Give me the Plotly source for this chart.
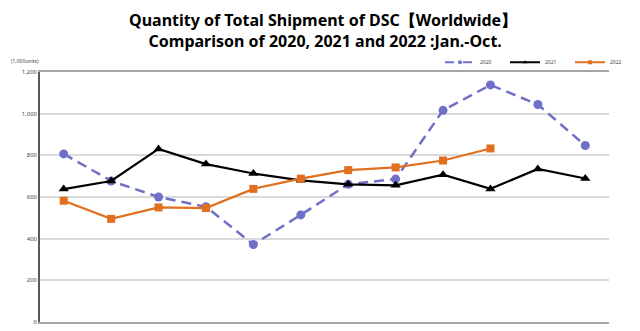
import plotly.graph_objects as go

months = ["Jan", "Feb", "Mar", "Apr", "May", "Jun", "Jul", "Aug", "Sep", "Oct", "Nov", "Dec"]
s2020 = [807, 677, 600, 553, 372, 514, 661, 686, 1016, 1138, 1044, 847]
s2021 = [638, 677, 831, 758, 713, 680, 661, 656, 707, 639, 735, 689]
s2022 = [582, 495, 550, 547, 639, 688, 729, 742, 775, 833]
ytickvals = [0, 200, 400, 600, 800, 1000, 1200]
yticktext = ["0", "200", "400", "600", "800", "1,000", "1,200"]

series = [
    ("2020", s2020, "#7070c8", "10px,6px", "circle", 9, 2.5),
    ("2021", s2021, "#000000", "solid", "triangle-up", 9, 2.2),
    ("2022", s2022, "#e0701f", "solid", "square", 8, 2.2),
]

fig = go.Figure()
for name, vals, color, dash, symbol, msize, lw in series:
    fig.add_trace(go.Scatter(x=months[:len(vals)], y=vals, name=name, mode="lines+markers",
                             line=dict(color=color, width=lw, dash=dash),
                             marker=dict(symbol=symbol, size=msize, color=color),
                             showlegend=False))
# legend-only entries with small symbols, like the reference legend
for name, vals, color, dash, symbol, msize, lw in series:
    fig.add_trace(go.Scatter(x=[None], y=[None], name=name, mode="lines+markers",
                             line=dict(color=color, width=2, dash="dash" if dash != "solid" else "solid"),
                             marker=dict(symbol=symbol, size=4, color=color),
                             showlegend=True))

PH = 254.0  # plot height in px for paper coordinate conversions
fig.update_layout(
    width=640, height=331,
    margin=dict(l=40, r=5, t=72, b=5),
    paper_bgcolor="white", plot_bgcolor="white",
    font=dict(family="Noto Sans, DejaVu Sans, sans-serif", size=6, color="#444444"),
    showlegend=True,
    legend=dict(orientation="h", x=0.703, y=1 + 10 / PH, xanchor="left", yanchor="middle",
                font=dict(size=5, color="#444444"), bgcolor="rgba(0,0,0,0)",
                entrywidth=20, entrywidthmode="pixels", itemwidth=30),
    xaxis=dict(showticklabels=False, showgrid=False, ticks="",
               showline=True, linecolor="#a6a6a6", linewidth=1.5, mirror=True,
               range=[-0.5, 11.5]),
    yaxis=dict(range=[0, 1200], tickvals=ytickvals, ticktext=yticktext,
               showgrid=True, gridcolor="#d9d9d9", gridwidth=1.5,
               showline=True, linecolor="#595959", linewidth=1.5,
               ticks="", tickfont=dict(size=6, color="#444444"), zeroline=False),
    annotations=[
        dict(text="<b>Quantity of Total Shipment of DSC【Worldwide】<br> Comparison of 2020, 2021 and 2022 :Jan.-Oct.</b>",
             x=0.497, xref="paper", xanchor="center", y=1 + (72 - 6) / PH, yref="paper", yanchor="top",
             showarrow=False, align="center",
             font=dict(size=16, color="#000000", family="Noto Sans, DejaVu Sans, sans-serif")),
        dict(text="(1,000units)", x=-0.055, xref="paper", y=1 + 11 / PH, yref="paper",
             xanchor="left", yanchor="middle",
             showarrow=False, font=dict(size=5, color="#444444")),
    ],
)
fig.write_html("out.html")
